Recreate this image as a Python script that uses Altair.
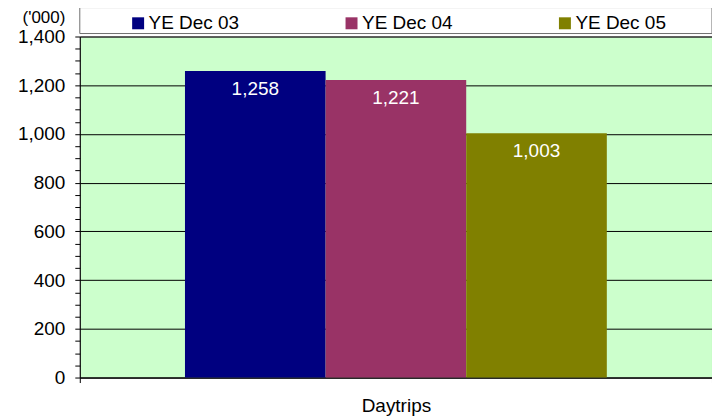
import altair as alt
import pandas as pd

categories = ["Daytrips", "Daytrips", "Daytrips"]
series = ["YE Dec 03", "YE Dec 04", "YE Dec 05"]
values = [1258, 1221, 1003]
colors = ["#000080", "#993366", "#808000"]
y_ticks = list(range(0, 1401, 50))

df = pd.DataFrame({"category": categories, "series": series, "value": values})

FONT = "Liberation Sans"
FS = 19

x_enc = alt.X(
    "category:N",
    scale=alt.Scale(paddingInner=0, paddingOuter=0),
    axis=alt.Axis(
        title=None, labelAngle=0, tickBand="extent", domainColor="black",
        tickColor="black", tickSize=5, labelFontSize=FS, labelPadding=14,
        labelColor="black", labelFont=FONT,
    ),
)
xoff_enc = alt.XOffset(
    "series:N", sort=series, scale=alt.Scale(paddingInner=0, paddingOuter=0.748)
)
y_enc = alt.Y(
    "value:Q",
    scale=alt.Scale(domain=[0, 1400], nice=False),
    axis=alt.Axis(
        values=y_ticks,
        labelExpr="datum.value % 200 === 0 ? format(datum.value, ',') : ''",
        gridColor="black", gridWidth=1,
        gridOpacity={"condition": {"test": "datum.value % 200 === 0", "value": 1}, "value": 0},
        domainColor="black", tickColor="black", tickSize=5, labelPadding=10,
        labelFontSize=FS, labelColor="black", labelFont=FONT,
        title="('000)", titleAngle=0, titleAlign="right", titleBaseline="middle",
        titleX=-15, titleY=-19, titleFontSize=17, titleFontWeight="normal",
        titleFont=FONT, titleColor="black",
    ),
)

legend_box = alt.Chart(pd.DataFrame({"k": [0]})).mark_rect(
    fill="white", stroke="#707070", strokeWidth=1
).encode(
    x=alt.value(0), x2=alt.value(634), y=alt.value(-29), y2=alt.value(-3)
)

bars = alt.Chart(df).mark_bar().encode(
    x=x_enc,
    xOffset=xoff_enc,
    y=y_enc,
    color=alt.Color(
        "series:N",
        scale=alt.Scale(domain=series, range=colors),
        legend=alt.Legend(
            title=None, orient="none", legendX=49, legendY=-23,
            direction="horizontal", columns=3, columnPadding=103,
            symbolType="square", symbolSize=144, symbolStrokeWidth=0,
            symbolOpacity=1, labelFontSize=FS, labelFont=FONT,
            labelColor="black", labelOffset=1, padding=0,
        ),
    ),
)

labels = alt.Chart(df).mark_text(
    color="white", baseline="top", dy=9, fontSize=FS, font=FONT
).encode(
    x=x_enc,
    xOffset=xoff_enc,
    y=y_enc,
    text=alt.Text("value:Q", format=","),
)

chart = alt.layer(legend_box, bars, labels).properties(
    width=634,
    height=342,
    background="white",
    autosize=alt.AutoSizeParams(type="none"),
    padding={"left": 72, "top": 28, "right": 0, "bottom": 45},
).configure_view(
    fill="#CCFFCC", stroke="#808080"
)

chart.save("out.html", embed_options={"renderer": "svg", "actions": False})
